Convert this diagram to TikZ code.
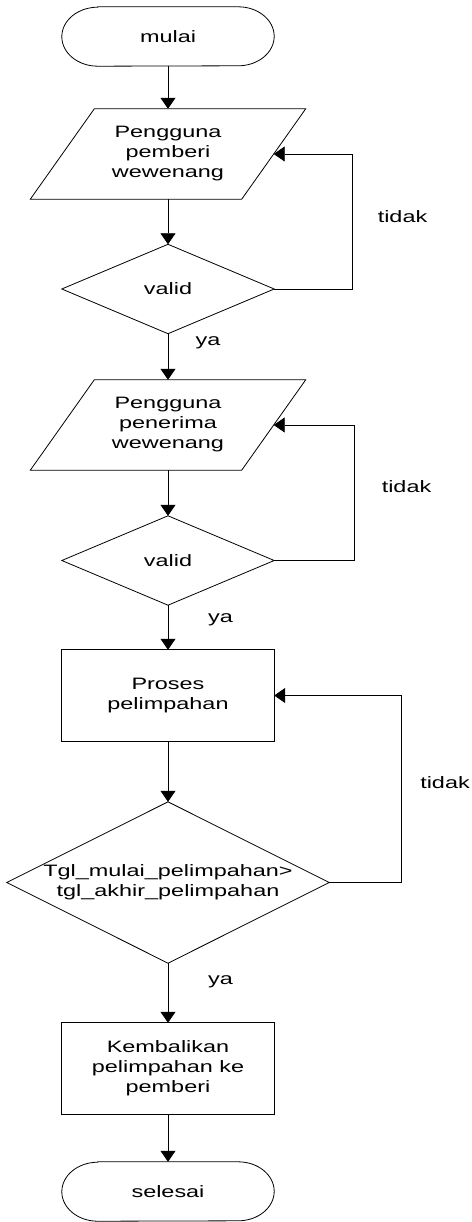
\documentclass[tikz,border=0pt]{standalone}
\usepackage{fontspec}
\setmainfont{Liberation Sans}[FakeStretch=1.42]
\usetikzlibrary{arrows.meta}
\begin{document}
\begin{tikzpicture}[x=1pt,y=-1pt,
  every node/.style={font=\fontsize{16.5}{20}\selectfont, inner sep=0pt, align=center},
  box/.style={rectangle, minimum width=212pt},
  outline/.style={draw=black, line width=0.8pt},
  arr/.style={draw=black, line width=0.8pt, -{Triangle[length=11pt,width=15pt]}},
  lbl/.style={anchor=center}]
\useasboundingbox (0,0) rectangle (471,1222);

% terminal, input, decision and process blocks
\node[box, minimum height=59pt] (start) at (168,36.5) {mulai};
\node[box, minimum width=211pt, minimum height=90pt] (in1) at (168,154) {Pengguna\\pemberi\\wewenang};
\node[box, minimum height=89pt] (val1) at (168,289) {valid};
\node[box, minimum width=211pt, minimum height=90pt] (in2) at (168,425) {Pengguna\\penerima\\wewenang};
\node[box, minimum height=89pt] (val2) at (168,560.5) {valid};
\node[box, minimum height=91pt] (proc) at (168,695.5) {Proses\\pelimpahan};
\node[box, minimum width=322pt, minimum height=161pt] (cmp) at (168,882.5) {Tgl\_mulai\_pelimpahan>\\tgl\_akhir\_pelimpahan};
\node[box, minimum height=91pt] (back) at (168,1068.5) {Kembalikan\\pelimpahan ke\\pemberi};
\node[box, minimum height=59pt] (stop) at (168,1191.5) {selesai};

% outlines
\foreach \t in {start,stop}
  \draw[outline] ([xshift=36pt]\t.north west) -- ([xshift=-36pt]\t.north east)
    arc[start angle=90,end angle=-90,x radius=36pt,y radius=29.5pt]
    -- ([xshift=36pt]\t.south west)
    arc[start angle=270,end angle=90,x radius=36pt,y radius=29.5pt] -- cycle;
\foreach \p in {in1,in2}
  \draw[outline] ([xshift=32pt]\p.north west) -- ([xshift=32pt]\p.north east)
    -- ([xshift=-32pt]\p.south east) -- ([xshift=-32pt]\p.south west) -- cycle;
\foreach \d in {val1,val2,cmp}
  \draw[outline] (\d.north) -- (\d.east) -- (\d.south) -- (\d.west) -- cycle;
\foreach \r in {proc,back}
  \draw[outline] (\r.north west) rectangle (\r.south east);

% main flow
\draw[arr] (start) -- (in1);
\draw[arr] (in1) -- (val1.north);
\draw[arr] (val1.south) -- (in2);
\draw[arr] (in2) -- (val2.north);
\draw[arr] (val2.south) -- (proc);
\draw[arr] (proc) -- (cmp.north);
\draw[arr] (cmp.south) -- (back);
\draw[arr] (back) -- (stop);

% return loops
\draw[arr] (val1.east) -- ++(78pt,0) |- (in1.east);
\draw[arr] (val2.east) -- ++(80pt,0) |- (in2.east);
\draw[arr] (cmp.east) -- ++(72pt,0) |- (proc.east);

% branch labels
\node[lbl] (t1) at (402.5,217) {tidak};
\node[lbl] (t2) at (406.5,487) {tidak};
\node[lbl] (t3) at (445,783) {tidak};
\node[lbl] (y1) at (208,343) {ya};
\node[lbl] (y2) at (220.5,620) {ya};
\node[lbl] (y3) at (220.5,982) {ya};
\end{tikzpicture}
\end{document}
